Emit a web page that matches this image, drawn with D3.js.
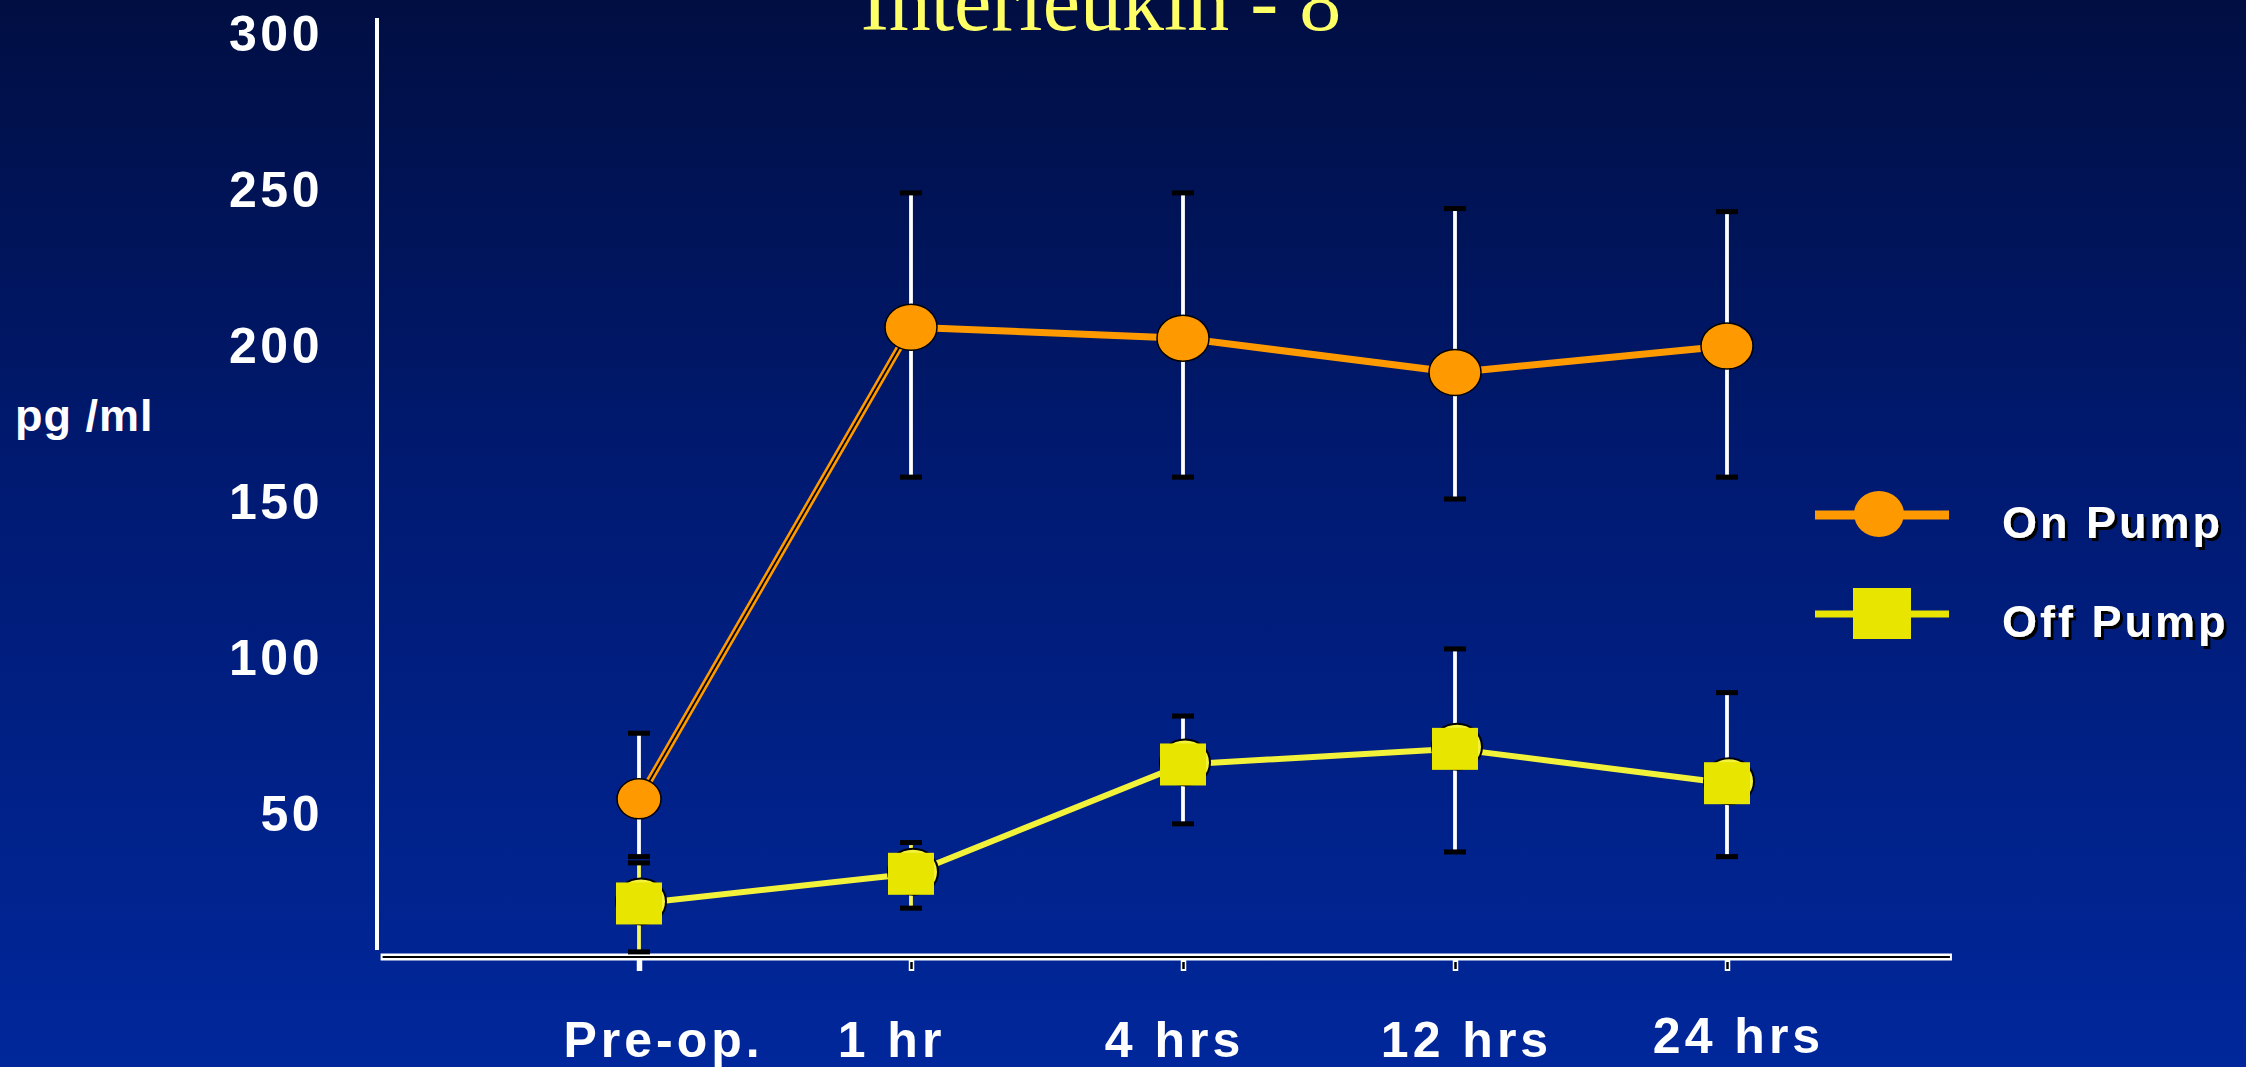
<!DOCTYPE html>
<html><head><meta charset="utf-8">
<script src="https://cdn.jsdelivr.net/npm/d3@7"></script>
<style>html,body{margin:0;padding:0;background:#001a73;overflow:hidden}</style>
</head><body>
<svg id="chart" width="2246" height="1067"></svg>
<script>
// ---- data ----
const categories = ["Pre-op.", "1 hr", "4 hrs", "12 hrs", "24 hrs"];
const onPump      = [50, 201, 197.5, 186.5, 195];
const onPumpHigh  = [71, 244, 244, 239, 238];
const onPumpLow   = [31.5, 153, 153, 146, 153];
const offPump     = [16.5, 26, 61, 66, 55];
const offPumpHigh = [29.5, 36, 76.5, 98, 84];
const offPumpLow  = [1, 15, 42, 33, 31.5];
const yTicks = [50, 100, 150, 200, 250, 300];
const seriesNames = ["On Pump", "Off Pump"];
const titleText = "Interleukin - 8";
const yLabelText = "pg /ml";

// ---- setup ----
const W = 2246, H = 1067;
const svg = d3.select("#chart");
const defs = svg.append("defs");
const grad = defs.append("linearGradient").attr("id", "bg")
  .attr("x1", 0).attr("y1", 0).attr("x2", 0).attr("y2", 1);
[["0%", "#000e42"], ["45%", "#001a72"], ["100%", "#00279b"]]
  .forEach(([o, c]) => grad.append("stop").attr("offset", o).attr("stop-color", c));
svg.append("rect").attr("width", W).attr("height", H).attr("fill", "url(#bg)");
const shadow = defs.append("filter").attr("id", "shadow")
  .attr("x", "-10%").attr("y", "-20%").attr("width", "130%").attr("height", "150%");
shadow.append("feDropShadow").attr("dx", 3).attr("dy", 3).attr("stdDeviation", 0.5)
  .attr("flood-color", "#000").attr("flood-opacity", 1);

const x = d3.scalePoint().domain(categories).range([639, 1727]);
const y = d3.scaleLinear().domain([0, 300]).range([955, 18]);
const step = x.step();
const FONT = "'Liberation Sans', Arial, sans-serif";

// ---- title ----
svg.append("text").attr("x", 1101).attr("y", 30)
  .attr("text-anchor", "middle")
  .attr("font-family", "'Liberation Serif', 'Times New Roman', serif")
  .attr("font-size", 84).attr("fill", "#ffff66")
  .text(titleText);

// ---- y axis ----
const yAxis = d3.axisLeft(y).tickValues(yTicks).tickSize(0).tickPadding(54)
  .tickFormat(d3.format("d"));
const gy = svg.append("g").attr("transform", "translate(377,0)").call(yAxis);
gy.select(".domain").remove();
gy.append("line").attr("x1", 0).attr("x2", 0)
  .attr("y1", y(300)).attr("y2", y(1.6))
  .attr("stroke", "#fff").attr("stroke-width", 4);
gy.selectAll(".tick text")
  .attr("y", 16)
  .attr("fill", "#fff").attr("font-family", FONT).attr("font-weight", "bold")
  .attr("font-size", 50).attr("letter-spacing", 3.5);

// y label
svg.append("text").attr("x", 15).attr("y", 431)
  .attr("font-family", FONT).attr("font-weight", "bold").attr("font-size", 45)
  .attr("fill", "#fff").attr("letter-spacing", 1)
  .text(yLabelText);

// ---- x axis ----
const axisY = y(0) + 2;
const xAxis = d3.axisBottom(x).tickSize(14).tickPadding(0);
const gx = svg.append("g").attr("transform", `translate(0,${axisY})`).call(xAxis);
gx.select(".domain").remove();
const xStart = x(categories[0]) - 0.95 * step;
const xEnd = x(categories[categories.length - 1]) + 0.827 * step;
gx.append("line").attr("x1", xStart).attr("x2", xEnd).attr("y1", 0).attr("y2", 0)
  .attr("stroke", "#ffffff").attr("stroke-width", 7);
gx.append("line").attr("x1", xStart + 2).attr("x2", xEnd - 2).attr("y1", 0).attr("y2", 0)
  .attr("stroke", "#000").attr("stroke-width", 2.2);
gx.selectAll(".tick line").attr("stroke", "#fff").attr("stroke-width", 5.5).attr("y1", 3);
gx.selectAll(".tick").filter((d, i) => i > 0).append("line")
  .attr("x1", 0).attr("x2", 0).attr("y1", 5).attr("y2", 12)
  .attr("stroke", "#000").attr("stroke-width", 2.5);
// label nudges (styling only), matching the slide's hand placement
const labelDx = [24, -20, -9, 11, 11];
const labelDy = [0, 0, 0, 0, -4];
gx.selectAll(".tick text")
  .attr("x", (d, i) => labelDx[i])
  .attr("y", (d, i) => 100 + labelDy[i]).attr("dy", 0)
  .attr("fill", "#fff").attr("font-family", FONT).attr("font-weight", "bold")
  .attr("font-size", 50).attr("letter-spacing", 4);

// ---- lines ----
const line = d3.line().x(d => x(d.c)).y(d => y(d.v));
const onData = categories.map((c, i) => ({c, v: onPump[i], hi: onPumpHigh[i], lo: onPumpLow[i]}));
const offData = categories.map((c, i) => ({c, v: offPump[i], hi: offPumpHigh[i], lo: offPumpLow[i]}));

svg.append("path").datum(onData).attr("d", line)
  .attr("fill", "none").attr("stroke", "#ff9900").attr("stroke-width", 7)
  .attr("stroke-linejoin", "round");
svg.append("path").datum(onData.slice(0, 2)).attr("d", line)
  .attr("fill", "none").attr("stroke", "#000").attr("stroke-width", 1.8);
svg.append("path").datum(offData).attr("d", line)
  .attr("fill", "none").attr("stroke", "#f2f23a").attr("stroke-width", 6)
  .attr("stroke-linejoin", "round");

// ---- error bars ----
function errorBars(data, color) {
  const g = svg.append("g");
  g.selectAll("line.eb").data(data).join("line")
    .attr("x1", d => x(d.c)).attr("x2", d => x(d.c))
    .attr("y1", d => y(d.hi)).attr("y2", d => y(d.lo))
    .attr("stroke", (d, i) => (typeof color === "function" ? color(i) : color))
    .attr("stroke-width", 3.8);
  ["hi", "lo"].forEach(k => {
    g.selectAll("rect." + k).data(data).join("rect")
      .attr("x", d => x(d.c) - 11).attr("y", d => y(d[k]) - 2.5)
      .attr("width", 22).attr("height", 5).attr("fill", "#000");
  });
}
errorBars(onData, "#ffffff");
errorBars(offData, i => i < 2 ? "#f5f55a" : "#ffffff");

// ---- markers ----
svg.append("g").selectAll("ellipse").data(offData).join("ellipse")
  .attr("cx", d => x(d.c) + 2).attr("cy", d => y(d.v) - 2)
  .attr("rx", 25).attr("ry", 23)
  .attr("fill", "#f2f23a").attr("stroke", "#000").attr("stroke-width", 2);
svg.append("g").selectAll("rect").data(offData).join("rect")
  .attr("x", d => x(d.c) - 23).attr("y", d => y(d.v) - 21)
  .attr("width", 46).attr("height", 42).attr("fill", "#e8e600");
svg.append("g").selectAll("ellipse").data(onData).join("ellipse")
  .attr("cx", d => x(d.c)).attr("cy", d => y(d.v))
  .attr("rx", (d, i) => i === 0 ? 22 : 26).attr("ry", (d, i) => i === 0 ? 20 : 23)
  .attr("fill", "#ff9900").attr("stroke", "#000").attr("stroke-width", 1.5);

// ---- legend ----
const legendY = [515, 614];
const legendColors = ["#ff9900", "#e8e600"];
const lg = svg.append("g");
seriesNames.forEach((name, i) => {
  const cy = legendY[i];
  lg.append("line").attr("x1", 1815).attr("x2", 1949).attr("y1", cy).attr("y2", cy)
    .attr("stroke", legendColors[i]).attr("stroke-width", i === 0 ? 9 : 7);
  if (i === 0) {
    lg.append("ellipse").attr("cx", 1879).attr("cy", cy - 1).attr("rx", 25).attr("ry", 23)
      .attr("fill", legendColors[i]);
  } else {
    lg.append("rect").attr("x", 1853).attr("y", cy - 26).attr("width", 58).attr("height", 51)
      .attr("fill", legendColors[i]);
  }
  lg.append("text").attr("x", 2002).attr("y", cy + 23)
    .attr("font-family", FONT).attr("font-weight", "bold").attr("font-size", 45)
    .attr("letter-spacing", 3).attr("fill", "#fff").attr("filter", "url(#shadow)")
    .text(name);
});
</script>
</body></html>
